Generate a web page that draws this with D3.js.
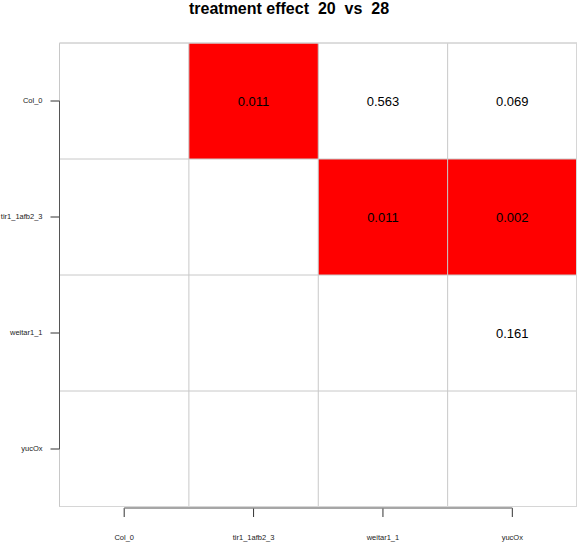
<!DOCTYPE html>
<html><head><meta charset="utf-8">
<script src="https://cdn.jsdelivr.net/npm/d3@7"></script>
<style>body{margin:0;background:#fff}svg{display:block}text{font-family:"Liberation Sans",Arial,sans-serif}</style>
</head><body><svg id="c" width="578" height="542"></svg>
<script>
const genotypes = ["Col_0", "tir1_1afb2_3", "weitar1_1", "yucOx"];
const rowNames = ["Col_0", "Col_0", "Col_0", "tir1_1afb2_3", "tir1_1afb2_3", "weitar1_1"];
const colNames = ["tir1_1afb2_3", "weitar1_1", "yucOx", "weitar1_1", "yucOx", "yucOx"];
const pValues = [0.011, 0.563, 0.069, 0.011, 0.002, 0.161];
const title = "treatment effect  20  vs  28";
const threshold = 0.05;

const svg = d3.select("#c");
const L = 59.5, R = 577, T = 43, B = 507;
const x = d3.scaleBand().domain(genotypes).range([L, R]);
const y = d3.scaleBand().domain(genotypes).range([T, B]);

const cells = pValues.map((v, i) => ({r: rowNames[i], c: colNames[i], v}));

svg.append("g").selectAll("rect").data(cells.filter(d => d.v < threshold)).join("rect")
  .attr("x", d => x(d.c)).attr("y", d => y(d.r))
  .attr("width", x.bandwidth()).attr("height", y.bandwidth())
  .attr("fill", "#ff0000");

// grid
const g = svg.append("g").attr("stroke", "#c8c8c8").attr("stroke-width", 1).attr("fill", "none");
genotypes.forEach(gn => {
  g.append("line").attr("x1", x(gn)).attr("x2", x(gn)).attr("y1", T).attr("y2", B);
  g.append("line").attr("x1", L).attr("x2", R).attr("y1", y(gn)).attr("y2", y(gn));
});
g.append("line").attr("x1", R - 0.5).attr("x2", R - 0.5).attr("y1", T).attr("y2", B).attr("stroke", "#d6d6d6");
g.append("line").attr("x1", L).attr("x2", R).attr("y1", B - 0.5).attr("y2", B - 0.5).attr("stroke", "#d6d6d6");
g.append("line").attr("x1", L).attr("x2", R).attr("y1", T).attr("y2", T).attr("stroke", "#d6d6d6");

svg.append("g").selectAll("text").data(cells).join("text")
  .attr("x", d => x(d.c) + x.bandwidth() / 2)
  .attr("y", d => y(d.r) + y.bandwidth() / 2)
  .attr("text-anchor", "middle").attr("dominant-baseline", "central")
  .attr("font-size", 13).attr("fill", "#000")
  .text(d => d.v.toFixed(3));

// axes
const yAxis = svg.append("g").attr("transform", `translate(${L},0)`)
  .call(d3.axisLeft(y).tickSize(9).tickPadding(8).offset(0));
yAxis.select(".domain").remove();
yAxis.append("line").attr("x1", 0).attr("x2", 0)
  .attr("y1", y(genotypes[0]) + y.bandwidth() / 2)
  .attr("y2", y(genotypes[3]) + y.bandwidth() / 2)
  .attr("stroke", "#555");
yAxis.selectAll(".tick line").attr("stroke", "#333");
yAxis.selectAll(".tick text").attr("font-size", 7.5).attr("fill", "#222")
  .attr("font-family", "Liberation Sans, Arial, sans-serif");

const xAxis = svg.append("g").attr("transform", `translate(0,${B + 1})`)
  .call(d3.axisBottom(x).tickSize(9).tickPadding(18).offset(0));
xAxis.select(".domain").remove();
xAxis.append("line").attr("y1", 0).attr("y2", 0)
  .attr("x1", x(genotypes[0]) + x.bandwidth() / 2)
  .attr("x2", x(genotypes[3]) + x.bandwidth() / 2)
  .attr("stroke", "#888").attr("stroke-width", 1.5);
xAxis.selectAll(".tick line").attr("stroke", "#333");
xAxis.selectAll(".tick text").attr("font-size", 7.5).attr("fill", "#222")
  .attr("font-family", "Liberation Sans, Arial, sans-serif");

svg.append("text").attr("x", 289).attr("y", 14).attr("text-anchor", "middle")
  .attr("font-size", 16).attr("font-weight", "bold")
  .style("white-space", "pre").attr("xml:space", "preserve").text(title);
</script></body></html>
